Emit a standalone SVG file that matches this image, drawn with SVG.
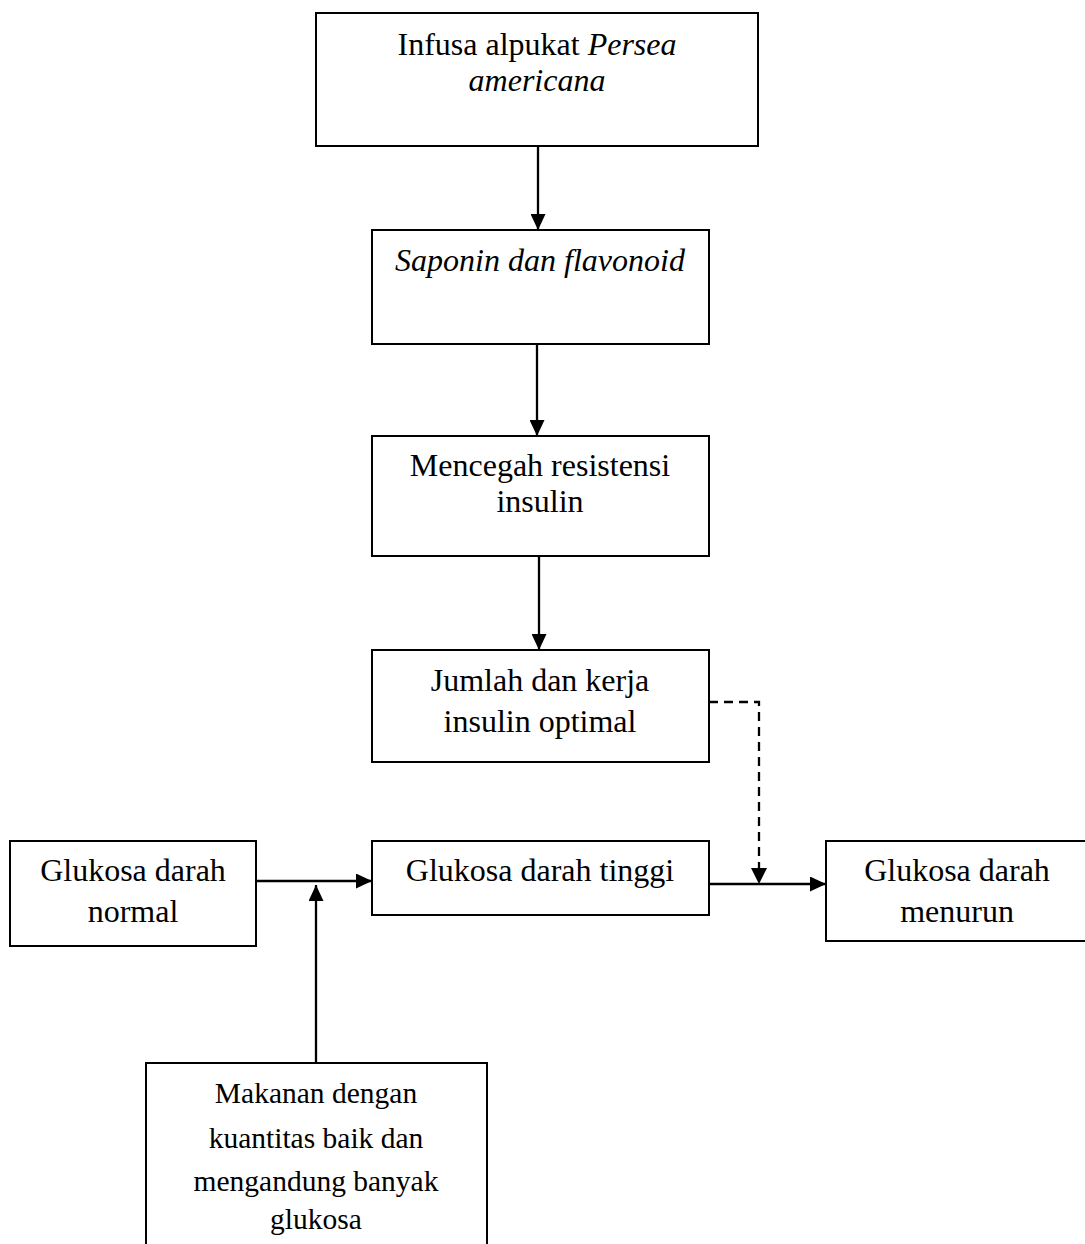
<svg xmlns="http://www.w3.org/2000/svg" width="1085" height="1244" viewBox="0 0 1085 1244">
<style>
.box{fill:#fff;stroke:#000;stroke-width:2}
.t{font-family:"Liberation Serif","Times New Roman",serif;font-size:32px;fill:#000;text-anchor:middle}
.s{font-size:29.5px}
.i{font-style:italic}
.c{fill:none;stroke:#000;stroke-width:2.3}
.d{stroke-dasharray:9,6}
</style>
<defs>
<marker id="ah" viewBox="0 0 16 15" refX="16" refY="7.5" markerWidth="16" markerHeight="15" orient="auto" markerUnits="userSpaceOnUse">
<path d="M0,0 L16,7.5 L0,15 z" fill="#000"/>
</marker>
</defs>
<rect width="1085" height="1244" fill="#fff"/>
<g id="connectors">
<line class="c" x1="538" y1="146" x2="538" y2="230" marker-end="url(#ah)"/>
<line class="c" x1="537" y1="344" x2="537" y2="436" marker-end="url(#ah)"/>
<line class="c" x1="539" y1="554" x2="539" y2="650" marker-end="url(#ah)"/>
<line class="c" x1="256" y1="881" x2="372" y2="881" marker-end="url(#ah)"/>
<line class="c" x1="316" y1="1063" x2="316" y2="885" marker-end="url(#ah)"/>
<line class="c" x1="709" y1="884" x2="826" y2="884" marker-end="url(#ah)"/>
<polyline class="c d" points="709,702 759,702 759,868"/>
<path d="M751,868 L767,868 L759,884 z" fill="#000"/>
</g>
<g id="n1">
<rect class="box" x="316" y="13" width="442" height="133"/>
<text class="t" x="537" y="55">Infusa alpukat <tspan class="i">Persea</tspan></text>
<text class="t i" x="537" y="91">americana</text>
</g>
<g id="n2">
<rect class="box" x="372" y="230" width="337" height="114"/>
<text class="t i" x="540" y="271">Saponin dan flavonoid</text>
</g>
<g id="n3">
<rect class="box" x="372" y="436" width="337" height="120"/>
<text class="t" x="540" y="476">Mencegah resistensi</text>
<text class="t" x="540" y="512">insulin</text>
</g>
<g id="n4">
<rect class="box" x="372" y="650" width="337" height="112"/>
<text class="t" x="540" y="691">Jumlah dan kerja</text>
<text class="t" x="540" y="732">insulin optimal</text>
</g>
<g id="n5">
<rect class="box" x="372" y="841" width="337" height="74"/>
<text class="t" x="540" y="881">Glukosa darah tinggi</text>
</g>
<g id="n6">
<rect class="box" x="10" y="841" width="246" height="105"/>
<text class="t" x="133" y="881">Glukosa darah</text>
<text class="t" x="133" y="922">normal</text>
</g>
<g id="n7">
<rect class="box" x="826" y="841" width="270" height="100"/>
<text class="t" x="957" y="881">Glukosa darah</text>
<text class="t" x="957" y="922">menurun</text>
</g>
<g id="n8">
<rect class="box" x="146" y="1063" width="341" height="200"/>
<text class="t s" x="316" y="1103">Makanan dengan</text>
<text class="t s" x="316" y="1148">kuantitas baik dan</text>
<text class="t s" x="316" y="1191">mengandung banyak</text>
<text class="t s" x="316" y="1229">glukosa</text>
</g>
</svg>
